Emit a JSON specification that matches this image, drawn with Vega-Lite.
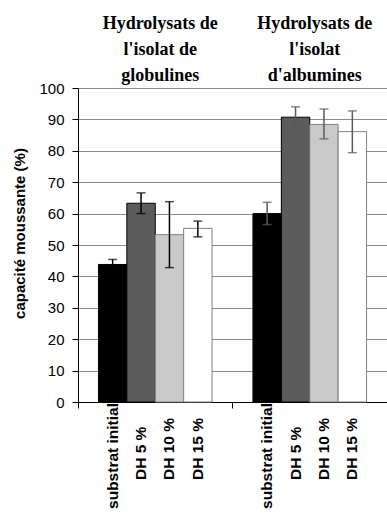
{
  "$schema": "https://vega.github.io/schema/vega-lite/v6.json",
  "width": 309,
  "height": 314,
  "autosize": "none",
  "padding": {"left": 78, "top": 88, "right": 0, "bottom": 113},
  "background": "white",
  "config": {
    "view": {"stroke": null},
    "axisY": {
      "labelOverlap": false,
      "titleFont": "Liberation Sans", "titleFontSize": 15, "titleFontWeight": "bold", "titleColor": "#000",
      "titleAngle": 270, "titleX": -59, "titleY": 145, "titleAlign": "center", "titleBaseline": "middle",
      "labelFont": "Liberation Sans", "labelFontSize": 15, "labelColor": "#000", "labelPadding": 8,
      "tickSize": 6, "tickColor": "#000", "domainColor": "#000",
      "grid": true, "gridColor": "#8c8c8c", "gridWidth": 1.2
    }
  },
  "data": {
    "values": [
      {"groupe": "Hydrolysats de|l'isolat de|globulines", "traitement": "substrat initial", "valeur": 43.8, "bas": 42.2, "haut": 45.4},
      {"groupe": "Hydrolysats de|l'isolat de|globulines", "traitement": "DH 5 %", "valeur": 63.3, "bas": 60.0, "haut": 66.6},
      {"groupe": "Hydrolysats de|l'isolat de|globulines", "traitement": "DH 10 %", "valeur": 53.3, "bas": 42.8, "haut": 63.8},
      {"groupe": "Hydrolysats de|l'isolat de|globulines", "traitement": "DH 15 %", "valeur": 55.3, "bas": 52.6, "haut": 57.6},
      {"groupe": "Hydrolysats de|l'isolat|d'albumines", "traitement": "substrat initial", "valeur": 60.0, "bas": 56.5, "haut": 63.6},
      {"groupe": "Hydrolysats de|l'isolat|d'albumines", "traitement": "DH 5 %", "valeur": 90.7, "bas": 87.7, "haut": 94.0},
      {"groupe": "Hydrolysats de|l'isolat|d'albumines", "traitement": "DH 10 %", "valeur": 88.4, "bas": 83.8, "haut": 93.3},
      {"groupe": "Hydrolysats de|l'isolat|d'albumines", "traitement": "DH 15 %", "valeur": 86.1, "bas": 79.4, "haut": 92.7}
    ]
  },
  "encoding": {
    "x": {
      "field": "groupe", "type": "nominal", "sort": null,
      "scale": {"paddingInner": 0, "paddingOuter": 0},
      "axis": null
    },
    "xOffset": {
      "field": "traitement", "type": "nominal",
      "sort": ["substrat initial", "DH 5 %", "DH 10 %", "DH 15 %"],
      "scale": {"paddingInner": 0, "paddingOuter": 0.72}
    }
  },
  "resolve": {"axis": {"x": "independent"}},
  "layer": [
    {
      "mark": {"type": "bar", "strokeWidth": 1},
      "encoding": {
        "x": {
          "field": "groupe", "type": "nominal", "sort": null,
          "axis": {
            "orient": "bottom", "title": null, "labels": false,
            "bandPosition": 0, "ticks": true, "tickSize": 6, "tickColor": "#000",
            "domainColor": "#000", "domainWidth": 1, "grid": false
          }
        },
        "y": {
          "field": "valeur", "type": "quantitative",
          "scale": {"domain": [0, 100], "nice": false},
          "axis": {"title": "capacité moussante (%)", "values": [0, 10, 20, 30, 40, 50, 60, 70, 80, 90, 100], "tickCount": 20}
        },
        "color": {
          "field": "traitement", "type": "nominal", "legend": null,
          "scale": {
            "domain": ["substrat initial", "DH 5 %", "DH 10 %", "DH 15 %"],
            "range": ["#000000", "#5c5c5c", "#c9c9c9", "#ffffff"]
          }
        },
        "stroke": {
          "condition": {"test": "datum.traitement === 'DH 10 %' || datum.traitement === 'DH 15 %'", "value": "#808080"},
          "value": "#000000"
        }
      }
    },
    {
      "mark": {"type": "rule", "strokeWidth": 1.5},
      "encoding": {
        "y": {"field": "bas", "type": "quantitative",
              "axis": {"title": "capacité moussante (%)", "values": [0, 10, 20, 30, 40, 50, 60, 70, 80, 90, 100], "tickCount": 20}},
        "y2": {"field": "haut"},
        "color": {"condition": {"test": "indexof(datum.groupe, 'albumines') >= 0", "value": "#5a5a5a"}, "value": "#000000"}
      }
    },
    {
      "mark": {"type": "tick", "size": 9, "thickness": 1.5},
      "encoding": {
        "y": {"field": "bas", "type": "quantitative",
              "axis": {"title": "capacité moussante (%)", "values": [0, 10, 20, 30, 40, 50, 60, 70, 80, 90, 100], "tickCount": 20}},
        "color": {"condition": {"test": "indexof(datum.groupe, 'albumines') >= 0", "value": "#5a5a5a"}, "value": "#000000"}
      }
    },
    {
      "mark": {"type": "tick", "size": 9, "thickness": 1.5},
      "encoding": {
        "y": {"field": "haut", "type": "quantitative",
              "axis": {"title": "capacité moussante (%)", "values": [0, 10, 20, 30, 40, 50, 60, 70, 80, 90, 100], "tickCount": 20}},
        "color": {"condition": {"test": "indexof(datum.groupe, 'albumines') >= 0", "value": "#5a5a5a"}, "value": "#000000"}
      }
    },
    {
      "transform": [{"filter": "datum.traitement === 'substrat initial'"}],
      "mark": {"type": "text", "angle": 270, "align": "right", "baseline": "middle", "dx": -1,
               "font": "Liberation Sans", "fontSize": 15.5, "fontWeight": "bold", "color": "#000"},
      "encoding": {
        "x": {
          "field": "groupe", "type": "nominal", "sort": null,
          "axis": {
            "orient": "top", "title": null, "domain": false, "ticks": false, "grid": false,
            "labelAngle": 0, "labelExpr": "split(datum.label, '|')",
            "labelFont": "Liberation Serif", "labelFontSize": 18, "labelFontWeight": "bold",
            "labelColor": "#000", "labelLineHeight": 26, "labelPadding": 56, "labelOffset": 5, "labelLimit": 300
          }
        },
        "y": {"datum": 0, "type": "quantitative",
              "axis": {"title": "capacité moussante (%)", "values": [0, 10, 20, 30, 40, 50, 60, 70, 80, 90, 100], "tickCount": 20}},
        "text": {"field": "traitement"}
      }
    },
    {
      "transform": [{"filter": "datum.traitement !== 'substrat initial'"}],
      "mark": {"type": "text", "angle": 270, "align": "left", "baseline": "middle", "dx": -78,
               "font": "Liberation Sans", "fontSize": 15.5, "fontWeight": "bold", "color": "#000"},
      "encoding": {
        "y": {"datum": 0, "type": "quantitative",
              "axis": {"title": "capacité moussante (%)", "values": [0, 10, 20, 30, 40, 50, 60, 70, 80, 90, 100], "tickCount": 20}},
        "text": {"field": "traitement"}
      }
    }
  ]
}
